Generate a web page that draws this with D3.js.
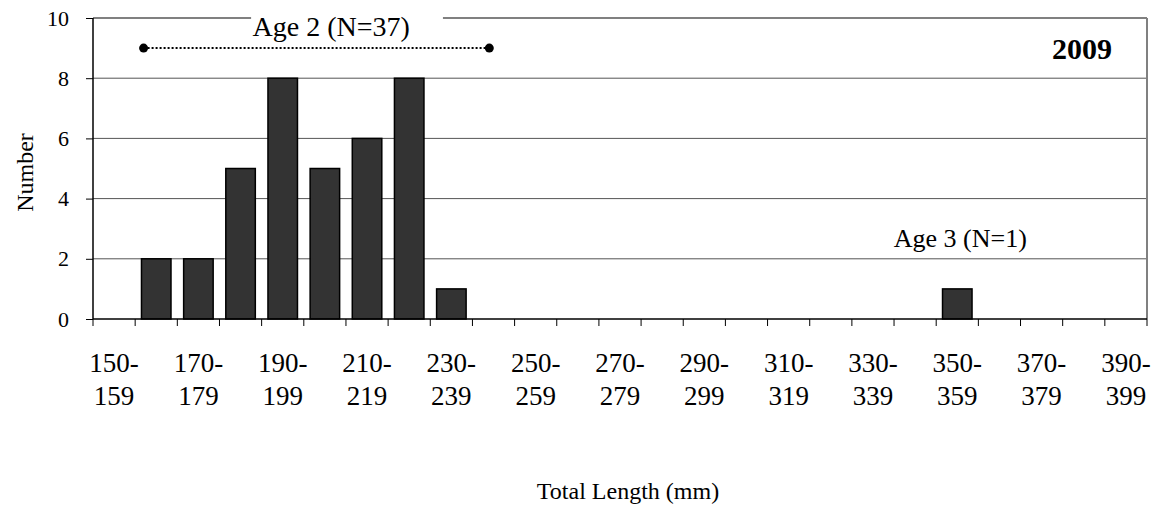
<!DOCTYPE html>
<html>
<head>
<meta charset="utf-8">
<script src="https://cdn.jsdelivr.net/npm/d3@7"></script>
<style>
  body { margin: 0; background: #fff; }
  svg text { font-family: "Liberation Serif", "Times New Roman", "DejaVu Serif", serif; fill: #000; }
</style>
</head>
<body>
<svg width="1157" height="510"></svg>
<script>
// length bins (mm) and fish counts, 2009
const bins = d3.range(150, 400, 10).map(d => d + "-" + (d + 9));
const counts = [0, 2, 2, 5, 8, 5, 6, 8, 1, 0, 0, 0, 0, 0, 0, 0, 0, 0, 0, 0, 1, 0, 0, 0, 0];
const yTicks = [0, 2, 4, 6, 8, 10];
const age2Span = [162, 244];   // mm, dotted bracket
const age2Y = 9;

const serif = "'Liberation Serif', 'Times New Roman', 'DejaVu Serif', serif";
const svg = d3.select("svg").style("font-family", serif);
const margin = {top: 18, right: 10, bottom: 191, left: 93};
const width = 1157 - margin.left - margin.right;
const height = 510 - margin.top - margin.bottom;

const g = svg.append("g").attr("transform", "translate(" + margin.left + "," + margin.top + ")");

const x = d3.scaleBand().domain(bins).range([0, width]).padding(0);
const len = d3.scaleLinear().domain([150, 400]).range([0, width]);
const y = d3.scaleLinear().domain([0, 10]).range([height, 0]);

// gridlines
g.append("g")
    .selectAll("line")
    .data(yTicks.filter(d => d > 0 && d < 10))
    .enter().append("line")
    .attr("x1", 0).attr("x2", width)
    .attr("y1", d => y(d)).attr("y2", d => y(d))
    .attr("stroke", "#555").attr("stroke-width", 1);

// plot border top + right (gray)
g.append("line").attr("x1", 0).attr("x2", width).attr("y1", 0).attr("y2", 0)
    .attr("stroke", "#808080").attr("stroke-width", 2);
g.append("line").attr("x1", width).attr("x2", width).attr("y1", 0).attr("y2", height)
    .attr("stroke", "#808080").attr("stroke-width", 2);

// bars
const bw = x.bandwidth() * 0.7;
g.selectAll(".bar")
    .data(bins.map((b, i) => [b, counts[i]]).filter(d => d[1] > 0))
    .enter().append("rect")
    .attr("class", "bar")
    .attr("x", d => x(d[0]) + (x.bandwidth() - bw) / 2)
    .attr("width", bw)
    .attr("y", d => y(d[1]))
    .attr("height", d => height - y(d[1]))
    .attr("fill", "#333333")
    .attr("stroke", "#000")
    .attr("stroke-width", 1.5);

// y axis
const yAxis = g.append("g")
    .call(d3.axisLeft(y).tickValues(yTicks).tickSize(7).tickPadding(17));
yAxis.attr("font-family", null).attr("font-size", null);
yAxis.select(".domain").attr("stroke", "#000").attr("stroke-width", 1.5).attr("d", "M0," + height + "V0");
yAxis.selectAll("text").style("font-size", "22px").style("font-family", serif);

// x axis: ticks at band boundaries
const xa = g.append("g").attr("transform", "translate(0," + height + ")");
xa.append("line").attr("x1", 0).attr("x2", width).attr("stroke", "#000").attr("stroke-width", 1.5);
xa.selectAll(".tk")
    .data(d3.range(bins.length + 1))
    .enter().append("line")
    .attr("class", "tk")
    .attr("x1", i => i * x.step()).attr("x2", i => i * x.step())
    .attr("y1", 0).attr("y2", 7)
    .attr("stroke", "#000");
const lbl = xa.selectAll(".lbl")
    .data(bins.filter((b, i) => i % 2 === 0))
    .enter().append("text")
    .attr("class", "lbl")
    .attr("text-anchor", "middle")
    .style("font-family", serif)
    .style("font-size", "27px");
lbl.append("tspan").attr("x", d => x(d) + x.bandwidth() / 2).attr("y", 53).text(d => d.split("-")[0] + "-");
lbl.append("tspan").attr("x", d => x(d) + x.bandwidth() / 2).attr("y", 86).text(d => d.split("-")[1]);

// axis titles
svg.append("text")
    .attr("transform", "translate(33," + (margin.top + height / 2 + 4) + ") rotate(-90)")
    .attr("text-anchor", "middle")
    .style("font-family", serif)
    .style("font-size", "24px")
    .text("Number");
svg.append("text")
    .attr("x", margin.left + width / 2 + 8)
    .attr("y", 499)
    .attr("text-anchor", "middle")
    .style("font-family", serif)
    .style("font-size", "24px")
    .text("Total Length (mm)");

// Age 2 bracket
g.append("rect")
    .attr("x", len(187.5)).attr("width", len(233) - len(187.5))
    .attr("y", -3).attr("height", 8)
    .attr("fill", "#fff");
g.append("text")
    .attr("x", len(206.5)).attr("y", y(9.4))
    .attr("text-anchor", "middle")
    .style("font-family", serif)
    .style("font-size", "28px")
    .text("Age 2 (N=37)");
g.append("line")
    .attr("x1", len(age2Span[0])).attr("x2", len(age2Span[1]))
    .attr("y1", y(age2Y)).attr("y2", y(age2Y))
    .attr("stroke", "#000").attr("stroke-width", 2).attr("stroke-dasharray", "2,2");
g.selectAll(".dot")
    .data(age2Span)
    .enter().append("circle")
    .attr("cx", d => len(d)).attr("cy", y(age2Y)).attr("r", 4.5)
    .attr("fill", "#000");

// Age 3 label
g.append("text")
    .attr("x", x("350-359") + x.bandwidth() / 2 + 3).attr("y", y(2.4))
    .attr("text-anchor", "middle")
    .style("font-family", serif)
    .style("font-size", "26px")
    .text("Age 3 (N=1)");

// year
g.append("text")
    .attr("x", width - 35).attr("y", 41)
    .attr("text-anchor", "end")
    .style("font-family", serif)
    .style("font-size", "30px")
    .style("font-weight", "bold")
    .text("2009");
</script>
</body>
</html>
